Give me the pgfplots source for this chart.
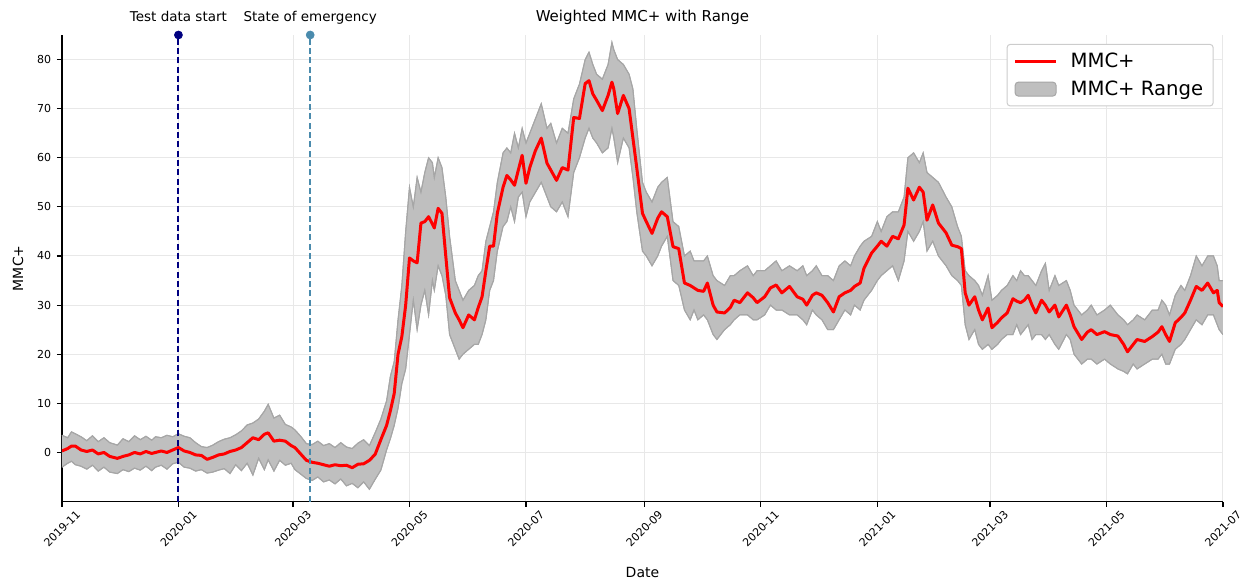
\documentclass[border=0pt]{standalone}
\usepackage{pgfplots}
\pgfplotsset{compat=1.18}
\usepackage{pgfplotstable}
\usepgfplotslibrary{fillbetween}
\usepackage{fontspec}
\setmainfont{DejaVu Sans}
\definecolor{bandfill}{HTML}{BFBFBF}
\definecolor{bandedge}{HTML}{A6A6A6}
\definecolor{navyc}{HTML}{000080}
\definecolor{steelc}{HTML}{4A8BAD}
\definecolor{gridc}{HTML}{E8E8E8}
\definecolor{legc}{HTML}{CCCCCC}

\pgfplotstableread{
d mid lo hi
0 0.3 -3.0 3.5
3 0.8 -2.2 3.0
5 1.3 -1.8 4.2
7 1.3 -2.5 3.8
10 0.5 -2.8 3.2
13 0.2 -3.4 2.4
16 0.5 -2.6 3.4
19 -0.3 -3.8 2.2
22 0.0 -3.0 3.0
25 -0.8 -4.0 2.0
29 -1.2 -4.3 1.5
32 -0.8 -3.5 2.8
35 -0.5 -3.9 2.2
38 0.0 -3.2 3.4
41 -0.3 -3.6 2.6
44 0.2 -2.8 3.3
47 -0.2 -3.7 2.5
49 0.0 -3.0 3.2
52 0.3 -2.6 3.0
55 0.0 -3.4 3.5
58 0.5 -2.3 3.2
61 1.0 -2.0 3.8
64 0.3 -3.0 3.3
67 0.0 -3.2 3.0
70 -0.5 -3.8 2.0
73 -0.6 -3.5 1.2
76 -1.4 -4.2 1.0
79 -1.0 -4.0 1.5
82 -0.5 -3.6 2.2
85 -0.3 -3.3 2.7
88 0.2 -4.3 3.0
91 0.5 -2.5 3.6
94 1.0 -3.7 4.4
97 2.0 -2.2 5.6
100 3.0 -4.6 6.0
103 2.6 -1.2 6.8
106 3.7 -3.5 8.4
108 4.0 -1.5 9.8
111 2.3 -3.8 7.0
114 2.5 -1.6 7.6
117 2.3 -2.6 5.7
120 1.4 -2.2 5.2
122 1.0 -3.5 4.6
125 -0.3 -4.4 3.3
128 -1.6 -5.3 1.8
131 -2.0 -5.7 1.6
134 -2.2 -5.0 2.3
137 -2.5 -6.0 1.4
140 -2.8 -5.6 1.8
143 -2.5 -6.4 1.0
146 -2.7 -5.4 2.0
149 -2.6 -6.8 1.1
152 -3.1 -6.3 0.8
155 -2.4 -7.2 1.9
158 -2.3 -6.0 2.6
161 -1.6 -7.5 1.4
164 -0.4 -5.5 4.0
167 2.6 -3.6 6.8
170 5.5 0.5 10.5
172 8.5 2.8 15.5
174 12 5.5 18.5
176 20 9 27
178 23.6 14 34
180 30 17 45
182 39.6 24 54
184 39 31 50
186 38.6 25 56
188 46.7 30 53
190 47 33 57
192 48 28 60
194 46.5 35 59
195 45.7 33 56
197 49.7 38 60
199 48.7 36 58
201 40 32 52
203 31.5 24 44
206 28.4 21 35
208 27 19 33
210 25.4 20 31
213 28 21 33
216 27 22 34
218 29.5 22 36
220 31.7 24 37
222 37 27 43
224 42 33 46
226 42 35 49
228 48.7 41 55
231 54 46 61
233 56.4 47 62
235 55.5 50 61
237 54.4 47 65
239 57.5 52 62
241 60.5 53 66
243 54.8 48 63
245 58 51 65
248 61.5 53 68
251 64 55 71
254 58.9 52 66
256 57.5 50 67
259 55.4 49 63
262 58 51 66
265 57.5 48 65
268 68.2 57 72
271 68 60 75
274 75.1 64 80
276 75.7 66 81.5
278 73 64 79
280 71.7 63 77
283 69.6 61 76
286 72.7 62 79
288 75.4 66 83.5
289 74 64 82
291 69 59 80
294 72.7 64 79
297 70 62 77
299 64 56 74
301 58 49 66
304 48.7 41 55
306 47 40 53
309 44.6 38 51
312 47.7 40 54
314 49 42 55
317 48 44 56
320 41.9 35 47
323 41.5 34 46
326 34.5 29 40
329 34 27 41
331 33.5 29 39
333 33 27 39
336 32.8 28 39
338 34.5 27 40
341 30 24 36
343 28.6 23 35
347 28.4 25 34
350 29.5 26 36
352 31 27 36
355 30.5 28 37
359 32.5 28 38
362 31.5 27 36
364 30.5 27 37
368 31.7 28 37
371 33.5 30 38
374 34.1 29 39
377 32.5 29 37
381 33.8 28 38
385 31.7 28 37
388 31.2 27 38
390 30 26 36
393 32 29 37
395 32.5 28 38
398 32 27 36
401 30.5 25 36
404 28.6 25 35
407 31.7 27 38
410 32.5 29 39
413 33 28 38
415 33.8 30 40
418 34.5 29 42
420 37.5 31 43
424 40.6 33 44
427 42 35 47
429 43 36 45
432 42 37 48
435 44 38 49
438 43.5 35 49
441 46.3 39 52
443 53.8 45 60
446 51.4 43 61
449 54 45 59
451 53 47 61
453 47.3 41 57
456 50.4 43 56
459 46.7 40 55
463 44.7 38 52
466 42.2 36 50
469 41.9 35 46
471 41.5 34 44
473 32.5 26 37
475 30 23 36
478 31.7 25 35
480 29 22 34
482 27 21 32
485 29.4 22 36
487 25.4 21 31
490 26.5 22 32
492 27.4 23 33
495 28.4 24 34
498 31.3 24 36
500 30.8 26 35
502 30.5 24 37
504 31 25 36
506 32 26 36
508 30 23 35
510 28.4 24 34
513 31 24 37
515 30 23 38.5
517 28.6 24 33
520 30 22 36
522 27.6 21 34
526 30 24 35
528 28 23 33
530 25.6 20 30
534 23 18 28
537 24.5 19 29
539 25 19 30
542 24 18 28
546 24.6 19 29
549 24 18 30
553 23.7 17 28
556 22 16.5 27
558 20.5 16 26
561 22 18 27
563 23 17 28
567 22.6 18 27
571 23.6 19 29
574 24.5 19 29
576 25.6 20 31
578 24 18 30
580 22.6 18 28
583 26.4 21 32
586 27.5 22 34
588 28.4 23 33
591 31 25 36
594 33.8 27 40
597 33 26 38
600 34.5 28 40
603 32.5 28 40
605 33 26 38
606 30.5 25 35
608 29.7 24 35
}\data

\begin{document}
\begin{tikzpicture}
\begin{axis}[
  scale only axis, width=697.2pt, height=280.2pt,
  xmin=0, xmax=608, ymin=-10, ymax=85,
  clip mode=individual,
  axis lines=left, axis line style={-, line width=0.9pt},
  xtick={0,61,121,182,243,305,366,427,486,547,608},
  xticklabels={2019-11,2020-01,2020-03,2020-05,2020-07,2020-09,2020-11,2021-01,2021-03,2021-05,2021-07},
  ytick={0,10,20,30,40,50,60,70,80},
  grid=major, grid style={color=gridc, line width=0.6pt},
  tick align=outside, major tick length=3pt,
  tick style={black, line width=0.7pt},
  /pgf/number format/assume math mode=true,
  ticklabel style={font=\fontsize{6.6}{8}\selectfont},
  xticklabel style={yshift=-13.3pt, rotate=45, anchor=center},
  xlabel={Date}, ylabel={MMC+},
  label style={font=\fontsize{8.4}{10}\selectfont},
  x label style={at={(axis description cs:0.5,-0.163)}, anchor=base},
  y label style={at={(axis description cs:-0.0379,0.5)}, anchor=center},
  legend style={at={(0.992,0.981)}, anchor=north east, draw=legc, rounded corners=2pt,
    line width=0.6pt, font=\fontsize{11.8}{14}\selectfont, row sep=2.5pt,
    inner xsep=4pt, inner ysep=3pt, cells={anchor=west}},
  legend cell align=left,
]
\addlegendimage{legend image code/.code={\draw[red, line width=1.7pt] (0pt,0pt) -- (24.6pt,0pt); \path (31pt,0pt);}}
\addlegendentry{MMC+}
\addlegendimage{legend image code/.code={\draw[draw=bandedge, fill=bandfill, line width=0.6pt] (0pt,-4.2pt) rectangle (24.6pt,4.2pt); \path (31pt,0pt);}}
\addlegendentry{MMC+ Range}
\addplot[name path=hi, draw=bandedge, line width=0.6pt, forget plot] table[x=d, y=hi] {\data};
\addplot[name path=lo, draw=bandedge, line width=0.6pt, forget plot] table[x=d, y=lo] {\data};
\addplot[fill=bandfill, draw=none, forget plot] fill between[of=hi and lo];
\addplot[draw=bandedge, line width=0.6pt, forget plot] table[x=d, y=hi] {\data};
\addplot[draw=bandedge, line width=0.6pt, forget plot] table[x=d, y=lo] {\data};
\addplot[red, line width=1.8pt, line join=round, forget plot] table[x=d, y=mid] {\data};
\addplot[navyc, line width=1.2pt, dash pattern=on 3.6pt off 2pt, forget plot] coordinates {(61,-10) (61,85)};
\addplot[steelc, line width=1.1pt, dash pattern=on 3.6pt off 2pt, forget plot] coordinates {(130,-10) (130,85)};
\addplot[only marks, mark=*, mark size=2.4pt, navyc, forget plot] coordinates {(61,85)};
\addplot[only marks, mark=*, mark size=2.4pt, steelc, forget plot] coordinates {(130,85)};
\node[anchor=base, font=\fontsize{8.1}{10}\selectfont, yshift=7.8pt] at (axis cs:61,85) {Test data start};
\node[anchor=base, font=\fontsize{8.1}{10}\selectfont, yshift=7.8pt] at (axis cs:130,85) {State of emergency};
\node[anchor=base, font=\fontsize{9}{11}\selectfont, yshift=7.8pt] at (axis description cs:0.5,1) {Weighted MMC+ with Range};
\end{axis}
\path (-37.2pt,-49.2pt) rectangle (712.8pt,301.2pt);
\end{tikzpicture}
\end{document}
